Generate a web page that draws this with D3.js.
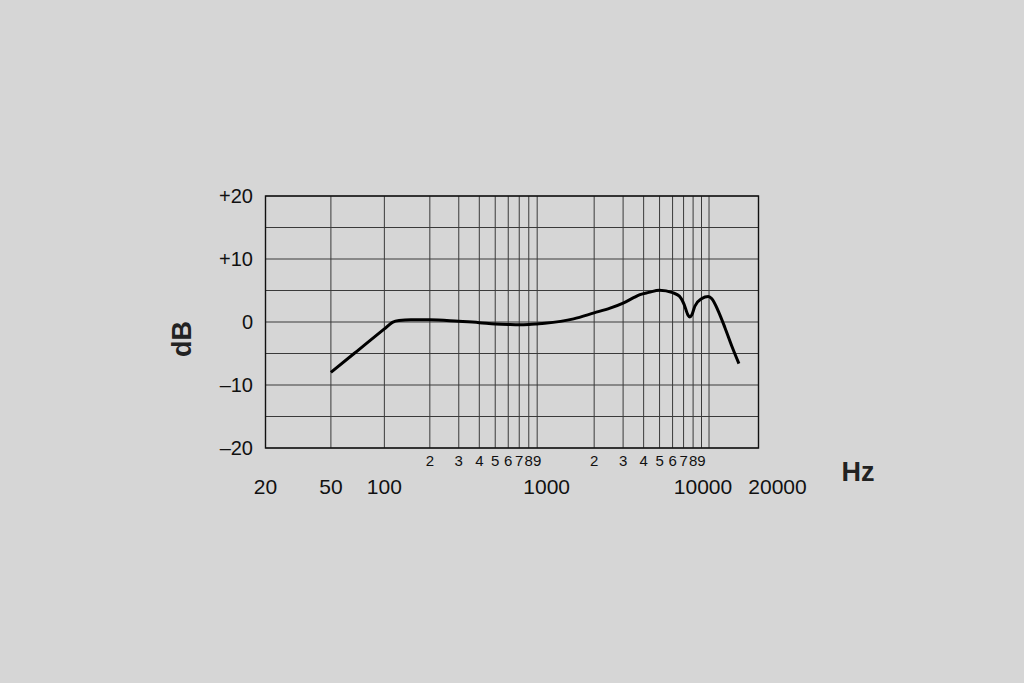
<!DOCTYPE html>
<html>
<head>
<meta charset="utf-8">
<script src="https://cdn.jsdelivr.net/npm/d3@7"></script>
<style>
  html, body { margin: 0; padding: 0; background: #d6d6d6; }
  svg { display: block; font-family: "Liberation Sans", Arial, sans-serif; }
</style>
</head>
<body>
<svg id="chart" width="1024" height="683"></svg>
<script>
// frequency response (Hz, dB)
const freqs = [50, 70, 100, 113, 125, 150, 200, 300, 400, 500, 600, 700, 800, 900, 1000,
  1500, 2000, 2500, 3000, 3500, 3800, 4300, 5000, 6000, 6600, 7050, 7450, 7650, 7850, 8200, 9000,
  9900, 10400, 11400, 12500, 13750, 15200]
const levels = [-8, -4.65, -1.1, -0.05, 0.25, 0.35, 0.35, 0.1, -0.1, -0.3, -0.4, -0.45, -0.4, -0.3, -0.2,
  0.5, 1.45, 2.2, 3.0, 3.9, 4.35, 4.7, 5.05, 4.65, 4.1, 2.8, 1.1, 0.8, 1.1, 2.5, 3.7,
  4.05, 3.7, 1.7, -0.9, -3.8, -6.6]

const dbTicks = [20, 10, 0, -10, -20]
const dbTickLabels = ['+20', '+10', '0', '\u201310', '\u201320']
const dbGrid = [15, 5, -5, -15]
const decadeLabels = [20, 50, 100, 1000, 10000, 20000]
const minorDigits = [2, 3, 4, 5, 6, 7, 8, 9]
const minorDecades = [100, 1000]

const svg = d3.select('#chart')

// log scale, with the hand-drawn 100 Hz line sitting a bit to the right
const xl = d3.scaleLog().domain([20, 20000]).range([265.5, 758.5])
const x = d3.scaleLog()
  .domain([20, 50, 100, 200, 20000])
  .range([xl(20), xl(50), xl(100) + 4, xl(200), xl(20000)])
const y = d3.scaleLinear().domain([-20, 20]).range([448, 196])

// nudges so the big labels don't crowd each other, like the original
const labelShift = { 10000: -6, 20000: 19, 1000: 2 }

const grid = svg.append('g').attr('stroke', '#3a3a3a').attr('stroke-width', 1)

// vertical grid lines: 50, 100 and every 1..9 step of the next two decades
const vLines = [50, 100]
minorDecades.forEach(d => minorDigits.forEach(m => vLines.push(m * d)))
vLines.push(10000)

grid.selectAll('.v')
  .data(vLines)
  .join('line')
  .attr('class', 'v')
  .attr('x1', d => x(d)).attr('x2', d => x(d))
  .attr('y1', y(20)).attr('y2', y(-20))

grid.selectAll('.h')
  .data(dbTicks.concat(dbGrid))
  .join('line')
  .attr('class', 'h')
  .attr('x1', x(20)).attr('x2', x(20000))
  .attr('y1', d => y(d)).attr('y2', d => y(d))

// frame
svg.append('rect')
  .attr('x', x(20)).attr('y', y(20))
  .attr('width', x(20000) - x(20)).attr('height', y(-20) - y(20))
  .attr('fill', 'none')
  .attr('stroke', '#111')
  .attr('stroke-width', 1.4)

// y tick labels
svg.selectAll('.ylab')
  .data(dbTicks)
  .join('text')
  .attr('class', 'ylab')
  .attr('x', 253)
  .attr('y', d => y(d) + 7)
  .attr('text-anchor', 'end')
  .attr('font-size', 20)
  .attr('fill', '#111')
  .text((d, i) => dbTickLabels[i])

// small digit labels under the minor lines
const minorTicks = []
minorDecades.forEach(d => minorDigits.forEach(m => minorTicks.push({ v: m * d, t: m })))
svg.selectAll('.minor')
  .data(minorTicks)
  .join('text')
  .attr('class', 'minor')
  .attr('x', d => x(d.v))
  .attr('y', 466)
  .attr('text-anchor', 'middle')
  .attr('font-size', 15)
  .attr('fill', '#111')
  .text(d => d.t)

// decade labels
svg.selectAll('.xlab')
  .data(decadeLabels)
  .join('text')
  .attr('class', 'xlab')
  .attr('x', d => x(d) + (labelShift[d] || 0))
  .attr('y', 494)
  .attr('text-anchor', 'middle')
  .attr('font-size', 21)
  .attr('fill', '#111')
  .text(d => d)

// axis titles
svg.append('text')
  .attr('transform', 'translate(191,339) rotate(-90)')
  .attr('text-anchor', 'middle')
  .attr('font-size', 27)
  .attr('font-weight', 'bold')
  .attr('fill', '#222')
  .text('dB')

svg.append('text')
  .attr('x', 858)
  .attr('y', 481)
  .attr('text-anchor', 'middle')
  .attr('font-size', 27)
  .attr('font-weight', 'bold')
  .attr('fill', '#222')
  .text('Hz')

// response curve
const line = d3.line()
  .x(d => x(d[0]))
  .y(d => y(d[1]))
  .curve(d3.curveMonotoneX)

svg.append('path')
  .datum(d3.zip(freqs, levels))
  .attr('d', line)
  .attr('fill', 'none')
  .attr('stroke', '#000')
  .attr('stroke-width', 3)
  .attr('stroke-linejoin', 'round')
</script>
</body>
</html>
